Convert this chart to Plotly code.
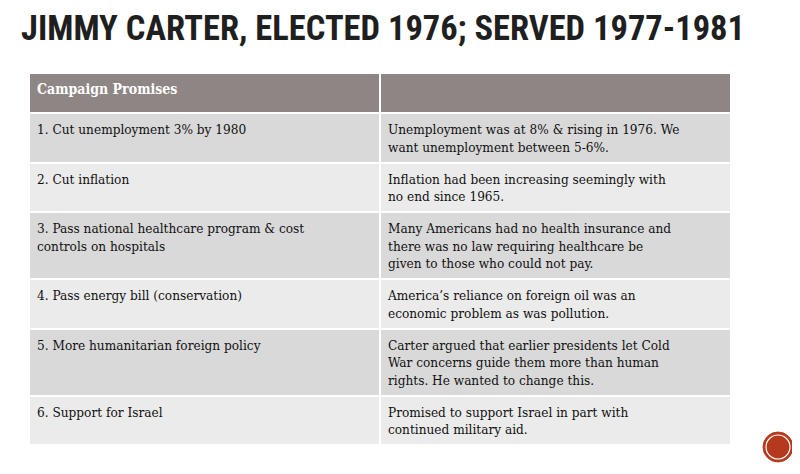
"""
Slide: Jimmy Carter campaign promises table
"""

import plotly.graph_objects as go

title_text = "JIMMY CARTER, ELECTED 1976; SERVED 1977-1981"
header_labels = ["<b>Campaign Promises</b>", ""]

promises = [
    "1. Cut unemployment 3% by 1980<br> ",
    "2. Cut inflation<br> ",
    "3. Pass national healthcare program & cost<br>controls on hospitals",
    "4. Pass energy bill (conservation)<br> ",
    "5. More humanitarian foreign policy<br> ",
    "6. Support for Israel<br> ",
]
context = [
    "Unemployment was at 8% & rising in 1976. We<br>want unemployment between 5-6%.",
    "Inflation had been increasing seemingly with<br>no end since 1965.",
    "Many Americans had no health insurance and<br>there was no law requiring healthcare be<br>"
    "given to those who could not pay.",
    "America\u2019s reliance on foreign oil was an<br>economic problem as was pollution.",
    "Carter argued that earlier presidents let Cold<br>War concerns guide them more than human<br>"
    "rights. He wanted to change this.",
    "Promised to support Israel in part with<br>continued military aid.",
]

# banded rows, dark / light alternating
row_fill = ["#d9d9d9" if i % 2 == 0 else "#ebebeb" for i in range(len(promises))]

W, H = 800, 474
OFF = 8  # page body margin shifts the whole figure


def px_x(x):
    return (x - OFF) / W


def px_y(y):
    return 1 - (y - OFF) / H


fig = go.Figure(go.Table(
    domain=dict(x=[px_x(29), px_x(731)], y=[0, px_y(73)]),
    columnwidth=[351, 351],
    header=dict(
        values=header_labels,
        fill_color="#8e8585",
        line=dict(color="white", width=2),
        font=dict(family="DejaVu Serif Condensed", size=14, color="white"),
        align="left",
        height=40,
    ),
    cells=dict(
        values=[promises, context],
        fill_color=[row_fill, row_fill],
        line=dict(color="white", width=2),
        font=dict(family="DejaVu Serif Condensed", size=13.5, color="#111111"),
        align="left",
        height=20,
    ),
))

fig.add_annotation(
    text=title_text, x=px_x(19), y=px_y(28), xref="paper", yref="paper",
    xanchor="left", yanchor="middle", showarrow=False,
    font=dict(family="Roboto Condensed", size=34.5, color="#1f1f1f", weight="bold"),
)

# slide number badge, bottom right
fig.add_shape(type="circle", xref="paper", yref="paper",
              x0=px_x(763), x1=px_x(793), y0=px_y(462), y1=px_y(432),
              fillcolor="#b5391c", line=dict(color="#b5391c", width=1))
fig.add_shape(type="circle", xref="paper", yref="paper",
              x0=px_x(766), x1=px_x(790), y0=px_y(459), y1=px_y(435),
              fillcolor="#b5391c", line=dict(color="white", width=1.2))

fig.update_layout(
    width=W, height=H,
    margin=dict(l=0, r=0, t=0, b=0),
    paper_bgcolor="white",
)
fig.write_html("out.html")
